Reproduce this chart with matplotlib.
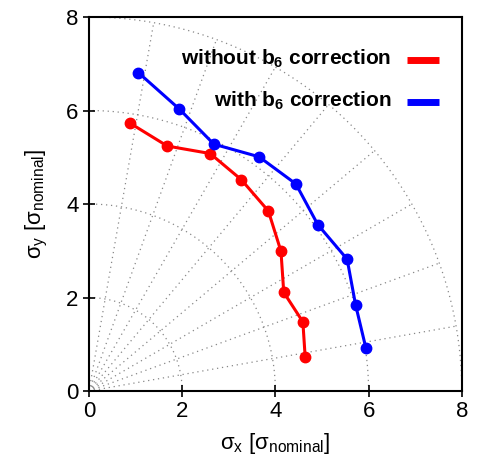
import numpy as np
import matplotlib
matplotlib.use("Agg")
import matplotlib.pyplot as plt

plt.rcParams['font.family'] = ['Liberation Sans', 'DejaVu Sans']
plt.rcParams['mathtext.fontset'] = 'custom'
plt.rcParams['mathtext.rm'] = 'Liberation Sans'
plt.rcParams['mathtext.it'] = 'Liberation Sans:italic'
plt.rcParams['mathtext.bf'] = 'Liberation Sans:bold'
plt.rcParams['mathtext.default'] = 'regular'

# Data
without_x = [0.88, 1.68, 2.60, 3.27, 3.85, 4.12, 4.18, 4.59, 4.64]
without_y = [5.73, 5.24, 5.08, 4.52, 3.85, 2.99, 2.11, 1.48, 0.72]
with_x = [1.06, 1.94, 2.68, 3.65, 4.44, 4.91, 5.54, 5.72, 5.94]
with_y = [6.81, 6.03, 5.28, 5.01, 4.43, 3.56, 2.82, 1.85, 0.93]
labels = ["without b$_\\mathbf{6}$ correction", "with b$_\\mathbf{6}$ correction"]
colors = ["#ff0000", "#0000ff"]
ticks = [0, 2, 4, 6, 8]
grid_radii = [2, 4, 6, 8]
grid_angles = [10, 20, 30, 40, 50, 60, 70, 80]

fig = plt.figure(figsize=(4.81, 4.59), dpi=100)
ax = fig.add_axes([0.185, 0.148, 0.775, 0.815])

# polar grid
t = np.linspace(0, np.pi / 2, 200)
for r in grid_radii:
    ax.plot(r * np.cos(t), r * np.sin(t), color='#888888', lw=0.9, ls=(0, (1, 3)), zorder=1)
for a in grid_angles:
    th = np.deg2rad(a)
    ax.plot([0, 8 * np.cos(th)], [0, 8 * np.sin(th)], color='#888888', lw=0.9, ls=(0, (1, 3)), zorder=1)

ax.plot(without_x, without_y, color=colors[0], lw=2.2, marker='o', ms=7.5, zorder=3)
ax.plot(with_x, with_y, color=colors[1], lw=2.2, marker='o', ms=7.5, zorder=3)

# legend-like labels
ly = [0.889, 0.777]
for lab, c, y in zip(labels, colors, ly):
    ax.text(0.812, y, lab, transform=ax.transAxes, ha='right', va='center',
            fontsize=15, fontweight='bold')
    ax.plot([0.853, 0.940], [y - 0.004, y - 0.004], transform=ax.transAxes,
            color=c, lw=5, solid_capstyle='butt', clip_on=False)

ax.set_xlim(0, 8)
ax.set_ylim(0, 8)
ax.set_xticks(ticks)
ax.set_yticks(ticks)
ax.tick_params(direction='inout', length=8, width=1.2, labelsize=16, top=False, right=False)
for s in ax.spines.values():
    s.set_linewidth(1.5)
ax.set_xlabel("σ$_x$ [σ$_{nominal}$]", fontsize=16, labelpad=6)
ax.set_ylabel("σ$_y$ [σ$_{nominal}$]", fontsize=16, labelpad=12)

fig.savefig("out.png", dpi=100)
